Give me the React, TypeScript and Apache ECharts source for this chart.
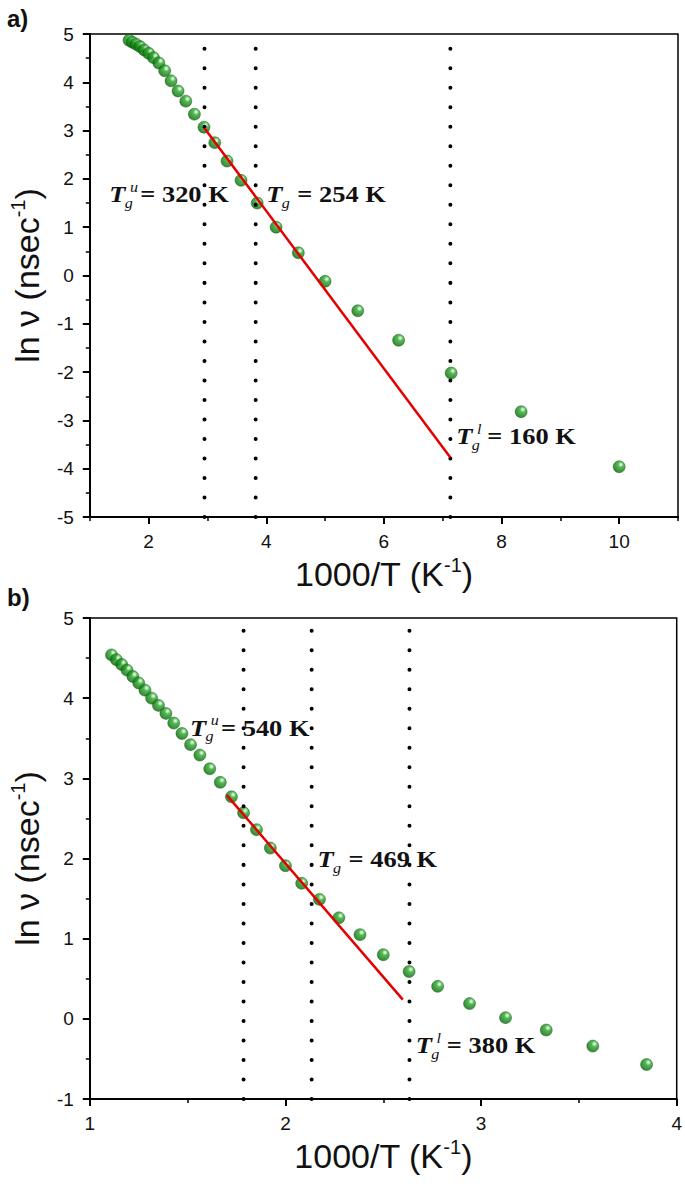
import React, { useEffect, useRef } from 'react';
import * as echarts from 'echarts';

// ---- Panel a) data ----
const topX = [1.667, 1.724, 1.786, 1.852, 1.923, 2.0, 2.083, 2.174, 2.273, 2.381, 2.5, 2.632, 2.778, 2.941, 3.125, 3.333, 3.571, 3.846, 4.167, 4.545, 5.0, 5.556, 6.25, 7.143, 8.333, 10.0];
const topY = [4.87, 4.83, 4.79, 4.74, 4.67, 4.6, 4.51, 4.4, 4.24, 4.03, 3.82, 3.61, 3.34, 3.07, 2.75, 2.37, 1.97, 1.5, 1.0, 0.47, -0.12, -0.73, -1.34, -2.02, -2.82, -3.96];
const topFitX = [2.95, 7.13];
const topFitY = [3.05, -3.77];
const topTgLines = [2.95, 3.82, 7.13];

// ---- Panel b) data ----
const botX = [1.111, 1.136, 1.163, 1.19, 1.22, 1.25, 1.282, 1.316, 1.351, 1.389, 1.429, 1.471, 1.515, 1.5625, 1.613, 1.667, 1.724, 1.786, 1.852, 1.923, 2.0, 2.083, 2.174, 2.273, 2.381, 2.5, 2.632, 2.778, 2.941, 3.125, 3.333, 3.571, 3.846];
const botY = [4.54, 4.48, 4.42, 4.35, 4.27, 4.19, 4.1, 4.0, 3.91, 3.81, 3.69, 3.56, 3.42, 3.29, 3.12, 2.95, 2.77, 2.57, 2.36, 2.13, 1.91, 1.69, 1.49, 1.26, 1.05, 0.8, 0.59, 0.405, 0.19, 0.015, -0.14, -0.34, -0.57];
const botFitX = [1.7, 2.6];
const botFitY = [2.79, 0.24];
const botTgLines = [1.786, 2.134, 2.634];

// ---- Annotations ----
const annGrid = [0, 0, 0, 1, 1, 1];
const annX = [1.33, 4.0, 7.23, 1.512, 2.164, 2.666];
const annY = [1.68, 1.68, -3.33, 3.63, 1.99, -0.33];
const annSup = ['u', '', 'l', 'u', '', 'l'];
const annText = ['= 320 K', '= 254 K', '= 160 K', '= 540 K', '= 469 K', '= 380 K'];

const SANS = '"Liberation Sans", Arial, sans-serif';
const SERIF = '"Liberation Serif", "Times New Roman", serif';

const sphere = {
  type: 'radial', x: 0.64, y: 0.32, r: 0.8,
  colorStops: [
    { offset: 0, color: '#ffffff' },
    { offset: 0.12, color: '#a6e6a6' },
    { offset: 0.3, color: '#2ca42c' },
    { offset: 0.7, color: '#0d7d0d' },
    { offset: 1, color: '#075507' },
  ],
};

const axisLineStyle = { show: true, onZero: false, lineStyle: { color: '#000', width: 2 } };
const labelStyle = (margin: number) => ({ color: '#111', fontSize: 19, fontFamily: SANS, margin });
const nameStyle = {
  color: '#111', fontSize: 34, fontFamily: SANS, lineHeight: 38,
  rich: { sup: { fontSize: 20, fontFamily: SANS, color: '#111', verticalAlign: 'top', lineHeight: 38, padding: [0, 0, 14, 0] } },
};

function vLine(x: number, yMin: number, yMax: number, xi: number, yi: number) {
  return {
    type: 'line', xAxisIndex: xi, yAxisIndex: yi, symbol: 'none', silent: true, z: 5,
    data: [[x, yMin], [x, yMax]],
    lineStyle: { color: '#000', width: 4, type: [0.01, 19.5], cap: 'round' },
  };
}

export default function App() {
  const ref = useRef<HTMLDivElement>(null);
  useEffect(() => {
    const chart = echarts.init(ref.current!, null, { renderer: 'svg' });
    const option: any = {
      animation: false,
      backgroundColor: '#fff',
      grid: [
        { left: 80, top: 34, width: 598, height: 483, show: true, borderColor: '#000', borderWidth: 1.5, backgroundColor: 'transparent' },
        { left: 80, top: 618, width: 598, height: 481, show: true, borderColor: '#000', borderWidth: 1.5, backgroundColor: 'transparent' },
      ],
      xAxis: [
        {
          type: 'value', gridIndex: 0, min: 1, max: 11, splitNumber: 5, position: 'bottom',
          axisLine: axisLineStyle, splitLine: { show: false },
          axisTick: { length: 7, lineStyle: { color: '#000', width: 2 } },
          axisLabel: { ...labelStyle(15), showMinLabel: false, showMaxLabel: false },
          name: '1000/T (K{sup|-1})', nameLocation: 'middle', nameGap: 38, nameTextStyle: nameStyle,
        },
        {
          type: 'value', gridIndex: 0, min: 1, max: 11, interval: 1, position: 'bottom',
          axisLine: { show: false, onZero: false }, splitLine: { show: false }, axisLabel: { show: false },
          axisTick: { length: 4, lineStyle: { color: '#000', width: 1.5 } },
        },
        {
          type: 'value', gridIndex: 1, min: 1, max: 4, interval: 1, position: 'bottom',
          axisLine: axisLineStyle, splitLine: { show: false },
          axisTick: { length: 7, lineStyle: { color: '#000', width: 2 } },
          minorTick: { show: true, splitNumber: 2, length: 4, lineStyle: { color: '#000', width: 1.5 } },
          axisLabel: labelStyle(15),
          name: '1000/T (K{sup|-1})', nameLocation: 'middle', nameGap: 38, nameTextStyle: nameStyle,
        },
      ],
      yAxis: [
        {
          type: 'value', gridIndex: 0, min: -5, max: 5, interval: 1,
          axisLine: axisLineStyle, splitLine: { show: false },
          axisTick: { length: 7, lineStyle: { color: '#000', width: 2 } },
          minorTick: { show: true, splitNumber: 2, length: 4, lineStyle: { color: '#000', width: 1.5 } },
          axisLabel: labelStyle(16),
          name: 'ln ν (nsec{sup|-1})', nameLocation: 'middle', nameGap: 41, nameTextStyle: nameStyle,
        },
        {
          type: 'value', gridIndex: 1, min: -1, max: 5, interval: 1,
          axisLine: axisLineStyle, splitLine: { show: false },
          axisTick: { length: 7, lineStyle: { color: '#000', width: 2 } },
          minorTick: { show: true, splitNumber: 2, length: 4, lineStyle: { color: '#000', width: 1.5 } },
          axisLabel: labelStyle(16),
          name: 'ln ν (nsec{sup|-1})', nameLocation: 'middle', nameGap: 41, nameTextStyle: nameStyle,
        },
      ],
      series: [
        {
          type: 'scatter', xAxisIndex: 0, yAxisIndex: 0, symbolSize: 12, z: 3,
          data: topX.map((x, i) => [x, topY[i]]),
          itemStyle: { color: sphere, borderColor: '#064a06', borderWidth: 0.5 },
        },
        {
          type: 'scatter', xAxisIndex: 2, yAxisIndex: 1, symbolSize: 12, z: 3,
          data: botX.map((x, i) => [x, botY[i]]),
          itemStyle: { color: sphere, borderColor: '#064a06', borderWidth: 0.5 },
        },
        {
          type: 'line', xAxisIndex: 0, yAxisIndex: 0, symbol: 'none', z: 6,
          data: topFitX.map((x, i) => [x, topFitY[i]]),
          lineStyle: { color: '#e50000', width: 2.5 },
        },
        {
          type: 'line', xAxisIndex: 2, yAxisIndex: 1, symbol: 'none', z: 6,
          data: botFitX.map((x, i) => [x, botFitY[i]]),
          lineStyle: { color: '#e50000', width: 2.5 },
        },
        ...topTgLines.map((x) => vLine(x, -5, 5, 0, 0)),
        ...botTgLines.map((x) => vLine(x, -1, 5, 2, 1)),
      ],
    };
    chart.setOption(option);

    const anns = annX.map((x, i) => {
      const p = chart.convertToPixel({ gridIndex: annGrid[i] } as any, [x, annY[i]]) as number[];
      const children: any[] = [
        { type: 'text', x: 0, y: 0, style: { text: 'T', font: `italic bold 23px ${SERIF}`, fill: '#111', verticalAlign: 'middle', align: 'left' } },
        { type: 'text', x: 13.5, y: 9, style: { text: 'g', font: `italic 14px ${SERIF}`, fill: '#111', verticalAlign: 'middle', align: 'left' } },
        { type: 'text', x: 27, y: 0, style: { text: annText[i], font: `bold 23px ${SERIF}`, fill: '#111', verticalAlign: 'middle', align: 'left' } },
      ];
      if (annSup[i]) {
        children.push({ type: 'text', x: 18, y: -7, style: { text: annSup[i], font: `italic 14px ${SERIF}`, fill: '#111', verticalAlign: 'middle', align: 'left' } });
      }
      return { type: 'group', x: p[0], y: p[1], scaleX: 1.15, z: 10, children };
    });

    chart.setOption({
      graphic: [
        { type: 'text', left: 7, top: 6, style: { text: 'a)', font: `bold 24px ${SANS}`, fill: '#111' } },
        { type: 'text', left: 7, top: 585, style: { text: 'b)', font: `bold 24px ${SANS}`, fill: '#111' } },
        ...anns,
      ],
    });
    return () => chart.dispose();
  }, []);
  return <div ref={ref} style={{ position: 'absolute', left: 0, top: 0, width: 685, height: 1189, background: '#fff' }} />;
}
